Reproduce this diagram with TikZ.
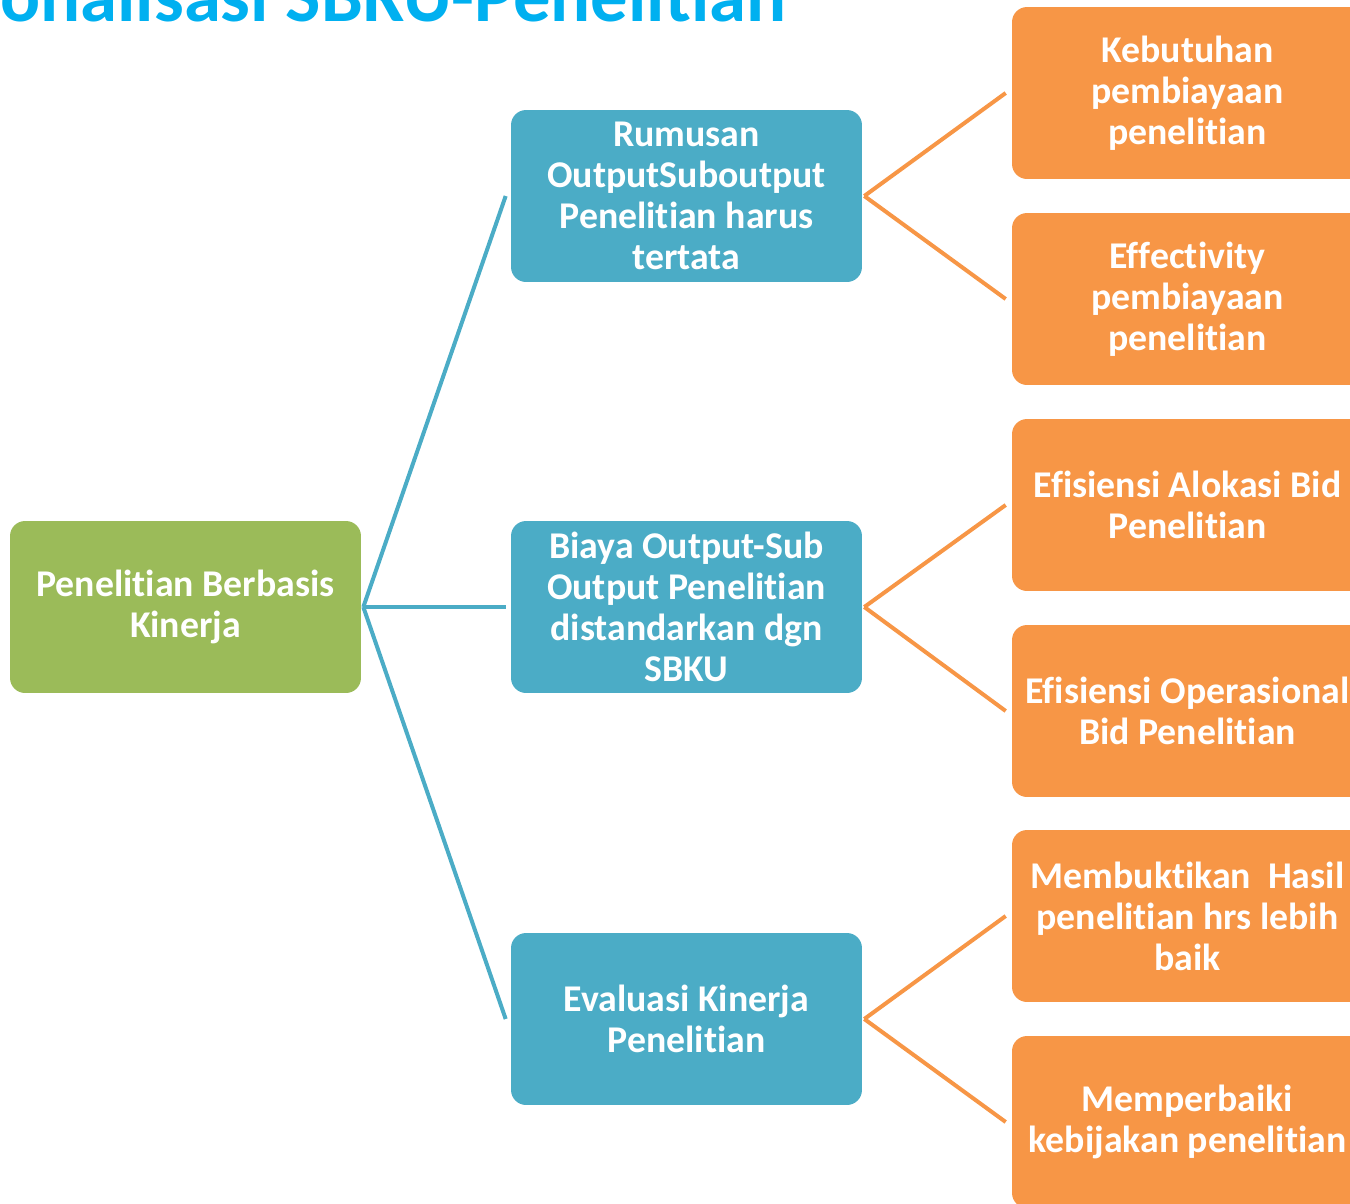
\documentclass[tikz,border=0pt]{standalone}
\usepackage{fontspec}
\setmainfont{Carlito}[Ligatures={NoCommon}]
\usepackage{xcolor}
\usetikzlibrary{positioning}
\definecolor{rootgreen}{HTML}{9BBB59}
\definecolor{midblue}{HTML}{4BACC6}
\definecolor{leaforange}{HTML}{F79646}
\definecolor{titleblue}{HTML}{00B0F0}

\begin{document}
\begin{tikzpicture}[x=0.02cm, y=-0.02cm,
    box/.style={rectangle, rounded corners=0.3cm, minimum width=7.02cm, minimum height=3.44cm,
        text width=6.9cm, align=flush center, inner sep=0pt, text=white,
        font=\fontsize{21.5}{23.3}\selectfont\bfseries},
    rootbox/.style={box, fill=rootgreen},
    midbox/.style={box, fill=midblue},
    leafbox/.style={box, fill=leaforange},
    blueline/.style={draw=midblue, line width=0.08cm},
    orangeline/.style={draw=leaforange, line width=0.08cm}]
    \path[use as bounding box, clip] (0,0) rectangle (1350,1204);

    \node[anchor=base west, text=titleblue, inner sep=0pt, font=\fontsize{42.5}{48}\selectfont\bfseries] (title) at (0,21) {onalisasi SBKU-Penelitian};

    \node[rootbox] (root) at (185.5,607) {Penelitian Berbasis\\Kinerja};

    \node[midbox] (rumusan) at (686.5,196) {Rumusan\\OutputSuboutput\\Penelitian harus\\tertata};
    \node[midbox] (biaya) at (686.5,607) {Biaya Output-Sub\\Output Penelitian\\distandarkan dgn\\SBKU};
    \node[midbox] (evaluasi) at (686.5,1019) {Evaluasi Kinerja\\Penelitian};

    \node[leafbox] (kebutuhan) at (1187.5,93) {Kebutuhan\\pembiayaan\\penelitian};
    \node[leafbox] (effectivity) at (1187.5,299) {Effectivity\\pembiayaan\\penelitian};
    \node[leafbox] (alokasi) at (1187.5,505) {Efisiensi Alokasi Bid\\Penelitian};
    \node[leafbox] (operasional) at (1187.5,711) {Efisiensi Operasional\\Bid Penelitian};
    \node[leafbox] (hasil) at (1187.5,916) {Membuktikan\ \ Hasil\\penelitian hrs lebih\\baik};
    \node[leafbox] (kebijakan) at (1187.5,1122) {Memperbaiki\\kebijakan penelitian};

    \draw[blueline] ([xshift=0.04cm]root.east) -- ([xshift=-0.1cm]rumusan.west);
    \draw[blueline] ([xshift=0.04cm]root.east) -- ([xshift=-0.1cm]biaya.west);
    \draw[blueline] ([xshift=0.04cm]root.east) -- ([xshift=-0.1cm]evaluasi.west);

    \draw[orangeline] ([xshift=0.04cm]rumusan.east) -- ([xshift=-0.12cm]kebutuhan.west);
    \draw[orangeline] ([xshift=0.04cm]rumusan.east) -- ([xshift=-0.12cm]effectivity.west);
    \draw[orangeline] ([xshift=0.04cm]biaya.east) -- ([xshift=-0.12cm]alokasi.west);
    \draw[orangeline] ([xshift=0.04cm]biaya.east) -- ([xshift=-0.12cm]operasional.west);
    \draw[orangeline] ([xshift=0.04cm]evaluasi.east) -- ([xshift=-0.12cm]hasil.west);
    \draw[orangeline] ([xshift=0.04cm]evaluasi.east) -- ([xshift=-0.12cm]kebijakan.west);
\end{tikzpicture}
\end{document}
